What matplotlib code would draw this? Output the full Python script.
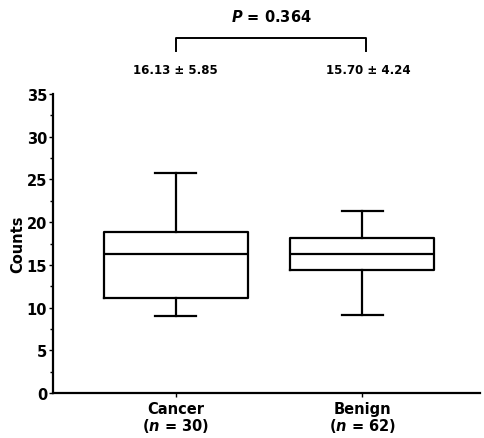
import matplotlib
matplotlib.use("Agg")
import matplotlib.pyplot as plt
from matplotlib.ticker import MultipleLocator

plt.rcParams["font.family"] = "DejaVu Sans"
plt.rcParams["mathtext.fontset"] = "custom"
plt.rcParams["mathtext.it"] = "DejaVu Sans:bold:italic"
plt.rcParams["mathtext.rm"] = "DejaVu Sans:bold"

# box statistics
groups = ["Cancer", "Benign"]
n_sizes = [30, 62]
whislo = [9.0, 9.1]
q1 = [11.1, 14.4]
med = [16.3, 16.3]
q3 = [18.9, 18.2]
whishi = [25.7, 21.3]
mean_sd = ["16.13 \u00b1 5.85", "15.70 \u00b1 4.24"]
p_text = "$P$ = 0.364"

stats = [dict(label=g, whislo=a, q1=b, med=c, q3=d, whishi=e, fliers=[])
         for g, a, b, c, d, e in zip(groups, whislo, q1, med, q3, whishi)]

fig = plt.figure(figsize=(4.85, 4.39), dpi=100)
ax = fig.add_axes([0.109, 0.1025, 0.88, 0.681])

pos = [1, 2]
lw = 1.6
ax.bxp(stats, positions=pos, widths=0.77, showfliers=False,
       boxprops=dict(color="black", lw=lw),
       medianprops=dict(color="black", lw=lw),
       whiskerprops=dict(color="black", lw=lw),
       capprops=dict(color="black", lw=lw),
       capwidths=0.22)

ax.set_xlim(0.34, 2.63)
ax.set_ylim(0, 35)
ax.spines["top"].set_visible(False)
ax.spines["right"].set_visible(False)
ax.spines["left"].set_linewidth(1.6)
ax.spines["bottom"].set_linewidth(1.6)

ax.yaxis.set_major_locator(MultipleLocator(5))
ax.yaxis.set_minor_locator(MultipleLocator(2.5))
ax.tick_params(axis="y", which="major", length=3, width=1, labelsize=10.5, pad=1)
ax.tick_params(axis="y", which="minor", length=2, width=1)
ax.tick_params(axis="x", length=3, width=1, labelsize=10.5, pad=3)
for t in ax.get_yticklabels():
    t.set_fontweight("bold")

ax.set_xticks(pos)
ax.set_xticklabels([f"{g}\n($n$ = {n})" for g, n in zip(groups, n_sizes)],
                   fontweight="bold", linespacing=1.0)
ax.set_ylabel("Counts", fontsize=10.5, fontweight="bold", labelpad=1)

# significance bracket and annotations above the axes
ax.plot([1, 1, 2.02, 2.02], [40.0, 41.6, 41.6, 40.0], color="black", lw=1.4,
        clip_on=False)
ax.text(1.51, 44.1, p_text, ha="center", va="center", fontsize=10.5,
        fontweight="bold")
for x, s in zip([1.0, 2.03], mean_sd):
    ax.text(x, 37.9, s, ha="center", va="center", fontsize=8.5,
            fontweight="bold")

fig.savefig("out.png", dpi=100)
